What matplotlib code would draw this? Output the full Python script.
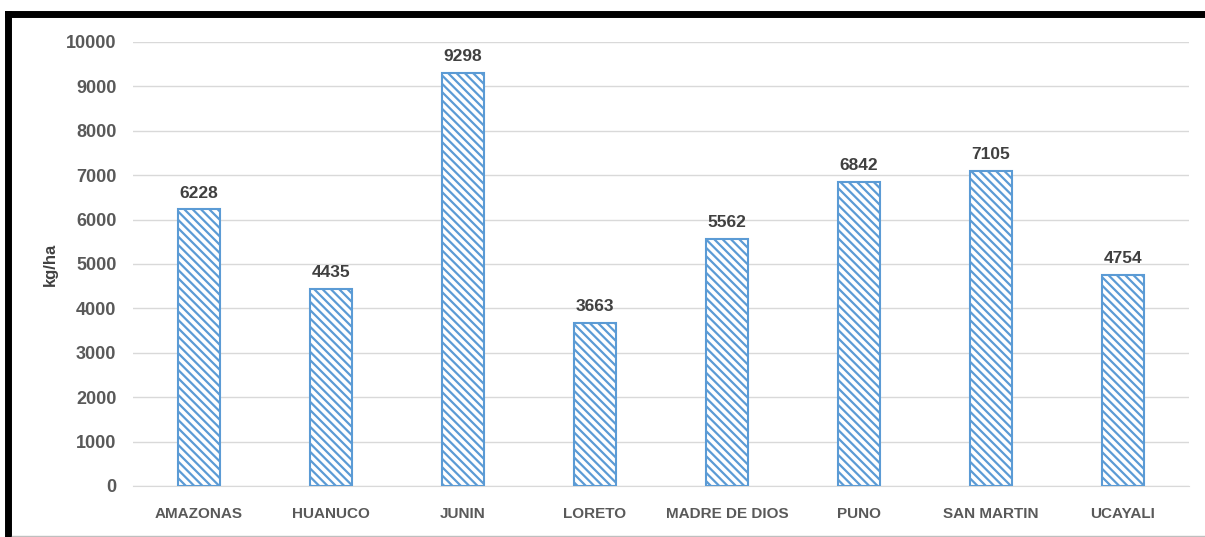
import matplotlib.pyplot as plt
from matplotlib.lines import Line2D
import numpy as np

regiones = ["AMAZONAS", "HUANUCO", "JUNIN", "LORETO", "MADRE DE DIOS",
            "PUNO", "SAN MARTIN", "UCAYALI"]
rendimiento = [6228, 4435, 9298, 3663, 5562, 6842, 7105, 4754]
yticks = [0, 1000, 2000, 3000, 4000, 5000, 6000, 7000, 8000, 9000, 10000]

plt.rcParams['font.family'] = ['Liberation Sans', 'DejaVu Sans']
plt.rcParams['hatch.linewidth'] = 1.6
plt.rcParams['hatch.color'] = '#5B9BD5'

fig = plt.figure(figsize=(12.05, 5.37), dpi=100)
ax = fig.add_axes([0.1104, 0.095, 0.8763, 0.8268])

x = np.arange(len(regiones))
bars = ax.bar(x, rendimiento, width=0.32, color='white', edgecolor='#5B9BD5',
              linewidth=1.5, hatch='\\\\\\\\', zorder=3)

for xi, v in zip(x, rendimiento):
    ax.text(xi, v + 200, str(v), ha='center', va='bottom', fontsize=12.5,
            fontweight='bold', color='#404040')

ax.set_xlim(-0.5, len(regiones) - 0.5)
ax.set_ylim(0, 10000)
ax.set_yticks(yticks)
ax.set_yticklabels([str(t) for t in yticks], fontsize=13, fontweight='bold', color='#595959')
ax.set_xticks(x)
ax.set_xticklabels(regiones, fontsize=11, fontweight='bold', color='#595959')
ax.tick_params(length=0, pad=12)
ax.tick_params(axis='x', pad=15)
ax.grid(axis='y', color='#D9D9D9', linewidth=1, zorder=0)
for s in ['top', 'right', 'left']:
    ax.spines[s].set_visible(False)
ax.spines['bottom'].set_color('#D9D9D9')
ax.set_ylabel('kg/ha', fontsize=12, fontweight='bold', color='#404040', labelpad=6)

# marco negro superior e izquierdo
W, H = 1205, 537
fig.add_artist(Line2D([8 / W, 8 / W], [0, 1 - 14 / H], color='black', linewidth=5,
                      transform=fig.transFigure, solid_capstyle='projecting'))
fig.add_artist(Line2D([8 / W, 1], [1 - 14 / H, 1 - 14 / H], color='black', linewidth=5,
                      transform=fig.transFigure, solid_capstyle='projecting'))
fig.add_artist(Line2D([12 / W, 1], [1.5 / H, 1.5 / H], color='#BFBFBF', linewidth=1,
                      transform=fig.transFigure))

fig.savefig('out.png', dpi=100)
